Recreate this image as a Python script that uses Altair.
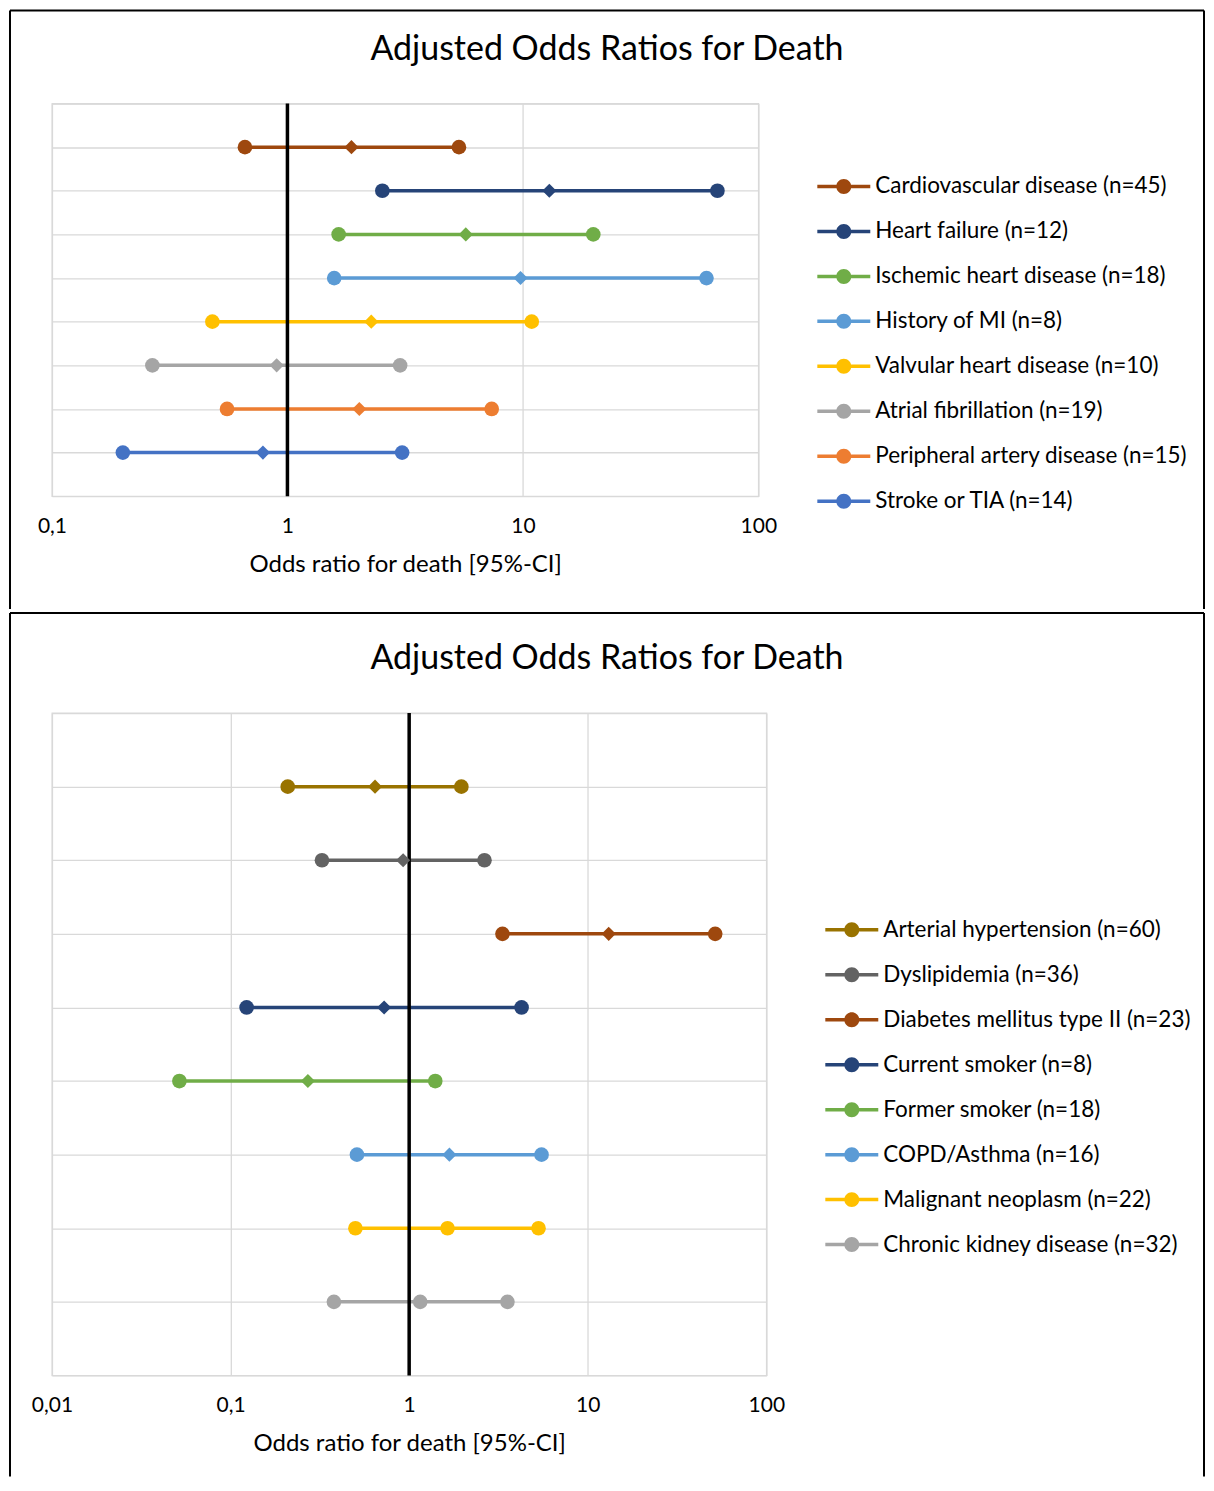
import altair as alt
import pandas as pd

# ---------------- data ----------------
p1_names = [
    "Cardiovascular disease (n=45)",
    "Heart failure (n=12)",
    "Ischemic heart disease (n=18)",
    "History of MI (n=8)",
    "Valvular heart disease (n=10)",
    "Atrial fibrillation (n=19)",
    "Peripheral artery disease (n=15)",
    "Stroke or TIA (n=14)",
]
p1_low = [0.66, 2.53, 1.65, 1.58, 0.48, 0.267, 0.554, 0.20]
p1_or = [1.87, 12.95, 5.72, 9.77, 2.27, 0.90, 2.02, 0.787]
p1_high = [5.35, 67.0, 19.9, 60.2, 10.9, 3.01, 7.37, 3.07]
p1_ticks = [0.1, 1, 10, 100]

p2_names = [
    "Arterial hypertension (n=60)",
    "Dyslipidemia (n=36)",
    "Diabetes mellitus type II (n=23)",
    "Current smoker (n=8)",
    "Former smoker (n=18)",
    "COPD/Asthma (n=16)",
    "Malignant neoplasm (n=22)",
    "Chronic kidney disease (n=32)",
]
p2_low = [0.209, 0.325, 3.33, 0.123, 0.0517, 0.51, 0.50, 0.379]
p2_or = [0.644, 0.925, 13.1, 0.724, 0.271, 1.68, 1.64, 1.153]
p2_high = [1.96, 2.64, 51.7, 4.26, 1.40, 5.51, 5.30, 3.55]
p2_ticks = [0.01, 0.1, 1, 10, 100]

TITLE = "Adjusted Odds Ratios for Death"
XTITLE = "Odds ratio for death [95%-CI]"

# ---------------- style ----------------
p1_colors = ["#9E480E", "#264478", "#70AD47", "#5B9BD5", "#FFC000", "#A5A5A5", "#ED7D31", "#4472C4"]
p2_colors = ["#997300", "#636363", "#9E480E", "#264478", "#70AD47", "#5B9BD5", "#FFC000", "#A5A5A5"]
ROUND_MID = ["Malignant neoplasm (n=22)", "Chronic kidney disease (n=32)"]

FONT = "Lato"
GRID = "#D9D9D9"
# legend glyph: a short line with a dot in the middle (units of 15 px)
SYMBOL_PATH = ("M-1.767,-0.117L1.767,-0.117L1.767,0.117L-1.767,0.117Z "
               "M0,-0.5C0.276,-0.5 0.5,-0.276 0.5,0C0.5,0.276 0.276,0.5 0,0.5"
               "C-0.276,0.5 -0.5,0.276 -0.5,0C-0.5,-0.276 -0.276,-0.5 0,-0.5Z")


def panel(names, low, est, high, colors, ticks, width, height,
          frame_left, frame_right, frame_top, frame_bottom,
          legend_x, legend_y, title_offset):
    n = len(names)
    rows = [n - i for i in range(n)]
    df = pd.DataFrame({"series": names, "low": low, "est": est, "high": high,
                       "row": rows, "hex": colors})
    ends = pd.concat([
        pd.DataFrame({"series": names, "value": low, "row": rows}),
        pd.DataFrame({"series": names, "value": high, "row": rows}),
    ], ignore_index=True)
    mids_d = df[~df["series"].isin(ROUND_MID)]
    mids_c = df[df["series"].isin(ROUND_MID)]

    xscale = alt.Scale(type="log", domain=[ticks[0], ticks[-1]], nice=False)
    yscale = alt.Scale(domain=[0, n + 1], nice=False, zero=False)
    xaxis = alt.Axis(
        values=ticks, labelExpr="replace(toString(datum.value), '.', ',')",
        title=XTITLE, grid=True, gridColor=GRID, gridWidth=1.3,
        domain=False, ticks=False, tickSize=0, labelPadding=19,
        labelFont=FONT, labelFontSize=21, labelColor="black",
        labelFlush=False, labelOverlap=False,
        titleFont=FONT, titleFontSize=24, titleFontWeight="normal",
        titleColor="black", titlePadding=16,
    )
    yaxis = alt.Axis(values=list(range(n + 2)), labels=False, ticks=False,
                     domain=False, title=None, grid=True, gridColor=GRID, gridWidth=1.3)

    legend = alt.Legend(
        title=None, orient="none", legendX=legend_x, legendY=legend_y,
        symbolType=SYMBOL_PATH, symbolSize=900, symbolStrokeWidth=0,
        symbolOpacity=1, labelFont=FONT, labelFontSize=22.5, labelColor="black",
        labelOffset=16.5, rowPadding=18, padding=0, labelLimit=500,
    )

    one = pd.DataFrame({"k": [0]})
    frame = []
    frame.append(alt.Chart(one).mark_rule(color="black", strokeWidth=2).encode(
        x=alt.value(frame_left), x2=alt.value(frame_right), y=alt.value(frame_top)))
    for fx in (frame_left, frame_right):
        frame.append(alt.Chart(one).mark_rule(color="black", strokeWidth=2).encode(
            x=alt.value(fx), y=alt.value(frame_top), y2=alt.value(frame_bottom)))

    ci = alt.Chart(df).mark_rule(strokeWidth=3.5).encode(
        x=alt.X("low:Q", scale=xscale, axis=xaxis),
        x2="high:Q",
        y=alt.Y("row:Q", scale=yscale, axis=yaxis),
        stroke=alt.Stroke("hex:N", scale=None),
    )
    ref = alt.Chart(pd.DataFrame({"ref": [1]})).mark_rule(color="black", strokeWidth=3.5).encode(
        x=alt.X("ref:Q", scale=xscale, axis=xaxis))
    endpts = alt.Chart(ends).mark_point(filled=True, size=215, opacity=1).encode(
        x=alt.X("value:Q", scale=xscale, axis=xaxis),
        y=alt.Y("row:Q", scale=yscale, axis=yaxis),
        fill=alt.Fill("series:N", scale=alt.Scale(domain=names, range=colors),
                      sort=names, legend=legend),
    )
    layers = frame + [ci, ref, endpts]
    if len(mids_d):
        layers.append(alt.Chart(mids_d).mark_point(filled=True, shape="diamond", size=200, opacity=1).encode(
            x=alt.X("est:Q", scale=xscale, axis=xaxis),
            y=alt.Y("row:Q", scale=yscale, axis=yaxis),
            fill=alt.Fill("hex:N", scale=None),
        ))
    if len(mids_c):
        layers.append(alt.Chart(mids_c).mark_point(filled=True, shape="circle", size=215, opacity=1).encode(
            x=alt.X("est:Q", scale=xscale, axis=xaxis),
            y=alt.Y("row:Q", scale=yscale, axis=yaxis),
            fill=alt.Fill("hex:N", scale=None),
        ))
    return alt.layer(*layers).properties(
        width=width, height=height,
        title=alt.TitleParams(TITLE, font=FONT, fontSize=34, fontWeight="normal",
                              color="black", anchor="middle", frame="bounds",
                              offset=title_offset),
    )


top = panel(p1_names, p1_low, p1_or, p1_high, p1_colors, p1_ticks, 707, 393,
            -42, 1153, -93, 506, 777.5, 68, -57)
bottom = panel(p2_names, p2_low, p2_or, p2_high, p2_colors, p2_ticks, 715, 663,
               -42, 1153, -100, 764, 785.5, 202, -64)

chart = alt.concat(top, bottom, columns=1, spacing=0).resolve_scale(
    x="independent", y="independent", fill="independent"
).resolve_legend(fill="independent").properties(padding=0, background="white").configure_view(
    stroke=GRID, strokeWidth=1.3
)

chart.save("out.html", embed_options={"renderer": "svg", "actions": False})
